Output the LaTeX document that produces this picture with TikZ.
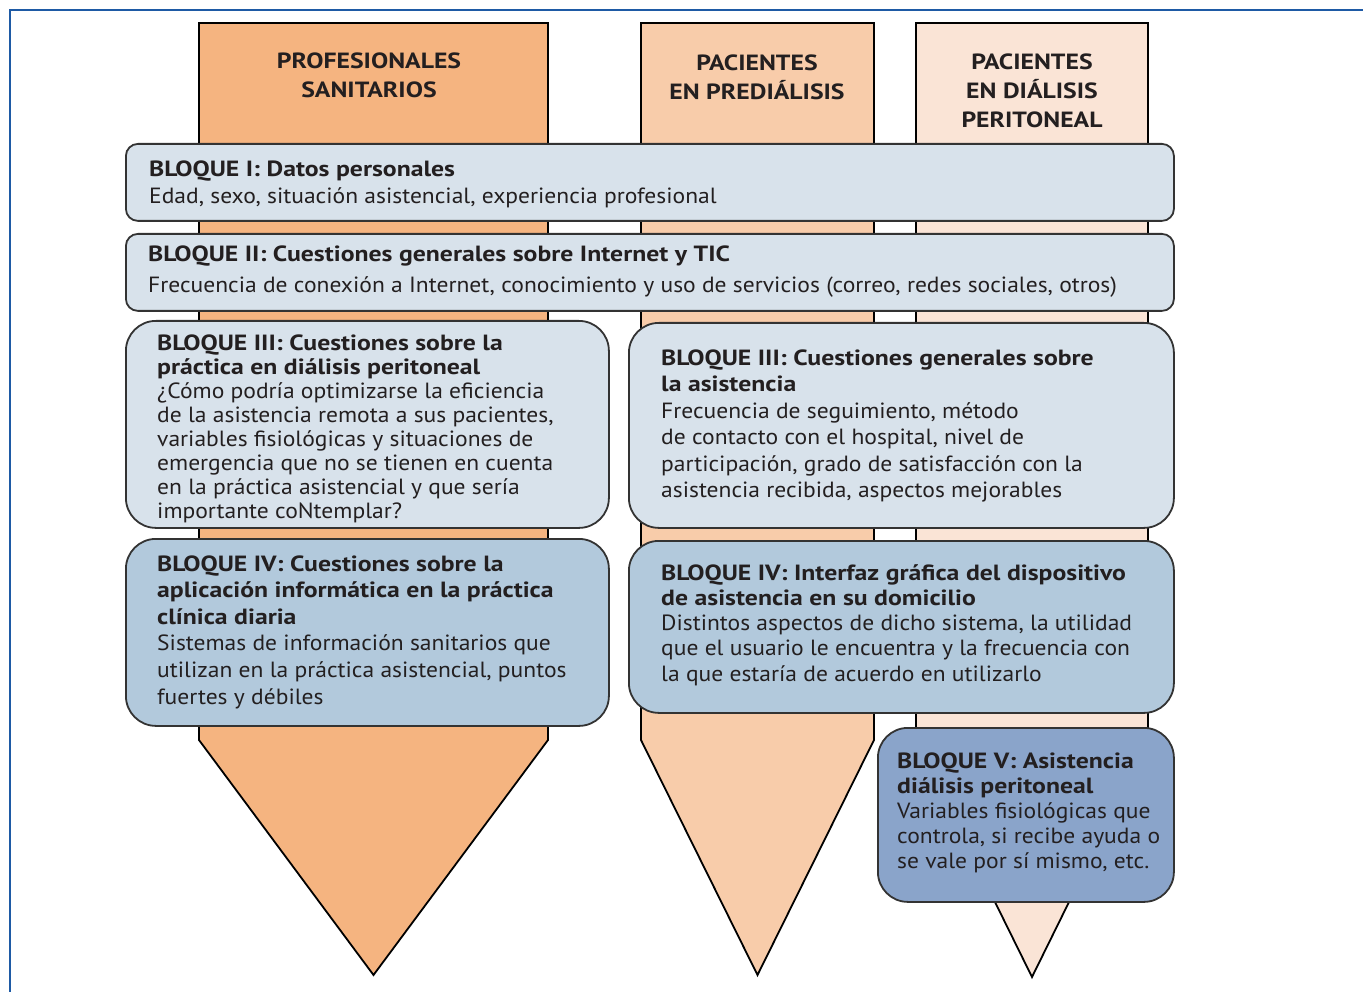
\documentclass[tikz,border=0pt]{standalone}
\usepackage{fontspec}
\setmainfont{PT Sans}[FakeStretch=1.07, BoldFeatures={FakeStretch=1.17}]
\definecolor{framecol}{RGB}{30,90,165}
\definecolor{colA}{RGB}{245,180,128}
\definecolor{colB}{RGB}{248,204,170}
\definecolor{colC}{RGB}{250,228,214}
\definecolor{boxL}{RGB}{216,226,235}
\definecolor{boxM}{RGB}{178,201,220}
\definecolor{boxD}{RGB}{138,164,202}
\definecolor{txtcol}{RGB}{35,31,32}
\newcommand\tlines[5]{%
  \foreach [count=\i] \txtline in {#5} {\node[tl] (#1\i) at (#2, {#3+(\i-1)*#4}) {\txtline};}}
\newcommand\hlines[5]{%
  \foreach [count=\i] \txtline in {#5} {\node[hl] (#1\i) at (#2, {#3+(\i-1)*#4}) {\txtline};}}
\begin{document}
\begin{tikzpicture}[x=1pt,y=-1pt,
  column/.style={draw=black, line width=1.8pt, line join=miter},
  box/.style={draw=black!80, line width=1.8pt, anchor=north west, inner sep=0, rounded corners=#1},
  box/.default=12,
  tl/.style={anchor=base west, inner sep=0, text=txtcol, font=\fontsize{22}{24}\selectfont},
  hl/.style={anchor=base, inner sep=0, text=txtcol, font=\fontsize{22}{24}\selectfont\bfseries},
]
\useasboundingbox (0,0) rectangle (1363,992);
\fill[white] (0,0) rectangle (1363,992);
% frame
\coordinate (fbl) at (10,992);
\coordinate (ftl) at (10,10);
\coordinate (ftr) at (1363,10);
\draw[framecol, line width=1.5pt] (fbl) -- (ftl) -- (ftr);
% columns
\draw[column, fill=colA] (199,23) -- (548,23) -- (548,740) -- (373.5,975) -- (199,740) -- cycle;
\draw[column, fill=colB] (641,23) -- (874,23) -- (874,740) -- (757.5,975) -- (641,740) -- cycle;
\draw[column, fill=colC] (916,23) -- (1148,23) -- (1148,742) -- (1032,977) -- (916,742) -- cycle;
% headers
\hlines{h1}{369}{69}{29}{PROFESIONALES,SANITARIOS}
\hlines{h2}{757}{71}{29}{PACIENTES,EN PREDIÁLISIS}
\hlines{h3}{1032}{70}{29}{PACIENTES,EN DIÁLISIS,PERITONEAL}
% boxes
\node[box=12, fill=boxL, minimum width=1048, minimum height=77] (b1) at (125,143) {};
\node[box=12, fill=boxL, minimum width=1048, minimum height=77] (b2) at (125,233) {};
\node[box=30, fill=boxL, minimum width=483, minimum height=207] (b3l) at (125,320) {};
\node[box=30, fill=boxL, minimum width=545, minimum height=205] (b3r) at (628,322) {};
\node[box=30, fill=boxM, minimum width=483, minimum height=187] (b4l) at (125,538) {};
\node[box=30, fill=boxM, minimum width=545, minimum height=172] (b4r) at (628,540) {};
\node[box=30, fill=boxD, minimum width=296, minimum height=174] (b5) at (877,727) {};
% texts
\tlines{t1}{149}{177}{27}{{\bfseries BLOQUE I: Datos personales},{Edad, sexo, situación asistencial, experiencia profesional}}
\tlines{t2}{148}{262}{31}{{\bfseries BLOQUE II: Cuestiones generales sobre Internet y TIC},{Frecuencia de conexión a Internet, conocimiento y uso de servicios (correo, redes sociales, otros)}}
\tlines{t3l}{157}{350}{24}{{\bfseries BLOQUE III: Cuestiones sobre la},{\bfseries práctica en diálisis peritoneal},{¿Cómo podría optimizarse la eficiencia},{de la asistencia remota a sus pacientes,},{variables fisiológicas y situaciones de},{emergencia que no se tienen en cuenta},{en la práctica asistencial y que sería},{importante coNtemplar?}}
\tlines{t3r}{661}{365}{26.5}{{\bfseries BLOQUE III: Cuestiones generales sobre},{\bfseries la asistencia},{Frecuencia de seguimiento, método},{de contacto con el hospital, nivel de},{participación, grado de satisfacción con la},{asistencia recibida, aspectos mejorables}}
\tlines{t4l}{157}{571}{26.6}{{\bfseries BLOQUE IV: Cuestiones sobre la},{\bfseries aplicación informática en la práctica},{\bfseries clínica diaria},{Sistemas de información sanitarios que},{utilizan en la práctica asistencial, puntos},{fuertes y débiles}}
\tlines{t4r}{661}{580}{25.25}{{\bfseries BLOQUE IV: Interfaz gráfica del dispositivo},{\bfseries de asistencia en su domicilio},{Distintos aspectos de dicho sistema, la utilidad},{que el usuario le encuentra y la frecuencia con},{la que estaría de acuerdo en utilizarlo}}
\tlines{t5}{897}{768}{25}{{\bfseries BLOQUE V: Asistencia},{\bfseries diálisis peritoneal},{Variables fisiológicas que},{controla, si recibe ayuda o},{se vale por sí mismo, etc.}}
\end{tikzpicture}
\end{document}
